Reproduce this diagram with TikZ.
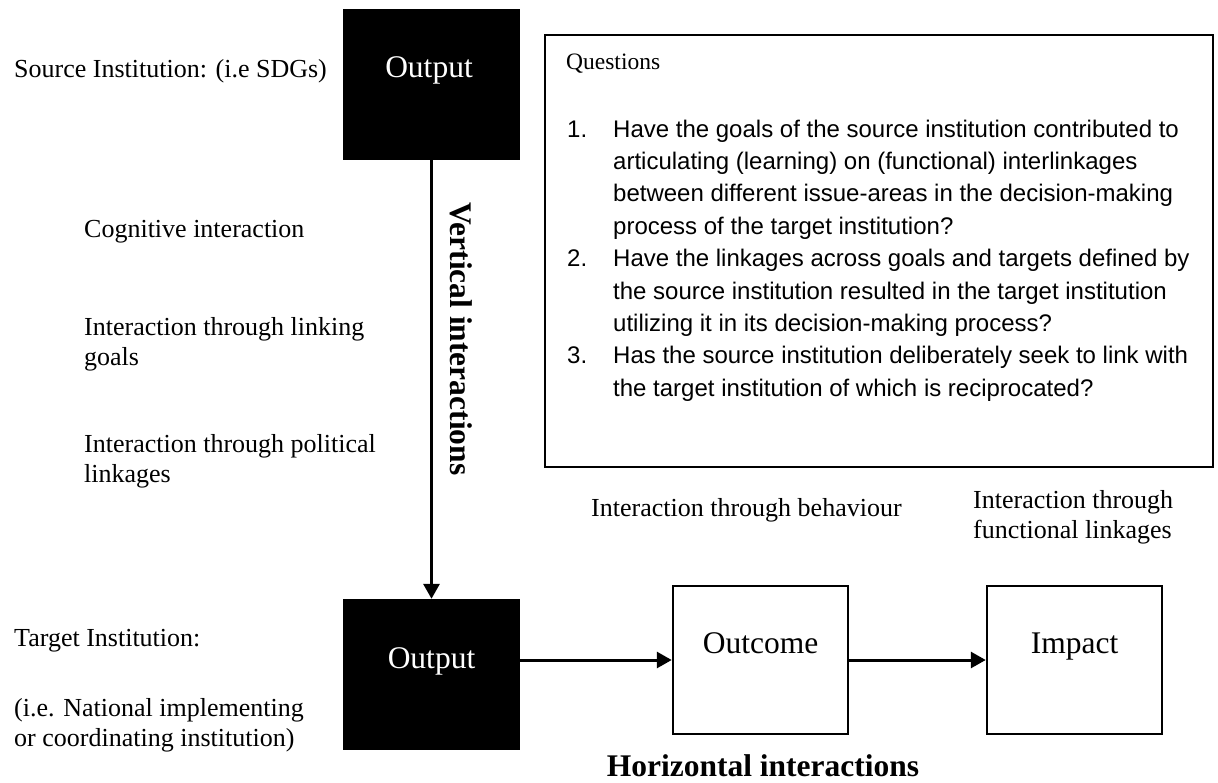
\documentclass[tikz,border=0pt]{standalone}
\usepackage{fontspec}
\setmainfont{Liberation Serif}
\newfontfamily\arialf{Liberation Sans}
\usetikzlibrary{arrows.meta}
\begin{document}
\begin{tikzpicture}[x=1pt,y=-1pt,
  lbl/.style={anchor=base west, inner sep=0pt, font=\fontsize{26}{30}\selectfont},
  qtxt/.style={anchor=base west, inner sep=0pt, font=\arialf\fontsize{24}{32}\selectfont},
  qhead/.style={anchor=base west, inner sep=0pt, font=\fontsize{23.5}{28}\selectfont},
  blackbox/.style={fill=black, draw=none, minimum width=177pt, minimum height=151pt, inner sep=0pt},
  whitebox/.style={draw=black, line width=2.5pt, minimum width=175pt, minimum height=148pt, inner sep=0pt},
  boxtext/.style={anchor=base, inner sep=0pt, font=\fontsize{31.5}{36}\selectfont},
  qboxstyle/.style={draw=black, line width=2.5pt, minimum width=668pt, minimum height=432pt, inner sep=0pt},
  conn/.style={line width=3pt, -{Triangle[length=15pt,width=16pt]}},
  heading/.style={anchor=base, font=\bfseries\fontsize{31.5}{36}\selectfont, inner sep=0pt}
]
\useasboundingbox (0,0) rectangle (1218,782);
% boxes
\node[blackbox] (src) at (431.5,84.5) {};
\node[boxtext, text=white] (srct) at (429,77) {Output};
\node[blackbox] (tgt) at (431.5,674.5) {};
\node[boxtext, text=white] (tgtt) at (431.5,668) {Output};
\node[whitebox] (outc) at (760.5,660) {};
\node[boxtext] (outct) at (760.5,653) {Outcome};
\node[whitebox] (imp) at (1074.5,660) {};
\node[boxtext] (impt) at (1074.5,653) {Impact};
% connectors
\draw[conn] (src.south) -- (tgt.north);
\draw[conn] (tgt.east |- outc.west) -- (outc.west);
\draw[conn] (outc.east) -- (imp.west);
% headings
\node[heading, rotate=-90, anchor=center] (vlab) at (461,339) {Vertical interactions};
\node[heading] (hlab) at (763,776) {Horizontal interactions};
% left labels
\node[lbl] (srcl) at (14,77) {Source Institution: (i.e SDGs)};
\node[lbl] (cog) at (84,237) {Cognitive interaction};
\node[lbl] (link1) at (84,335) {Interaction through linking};
\node[lbl] (link2) at (84,365) {goals};
\node[lbl] (pol1) at (84,452) {Interaction through political};
\node[lbl] (pol2) at (84,482) {linkages};
\node[lbl] (tgtl) at (14,646) {Target Institution:};
\node[lbl] (tgtl2) at (14,716) {(i.e. National implementing};
\node[lbl] (tgtl3) at (14,746) {or coordinating institution)};
\node[lbl] (beh) at (591,516) {Interaction through behaviour};
\node[lbl] (fun1) at (973,508) {Interaction through};
\node[lbl] (fun2) at (973,538) {functional linkages};
% questions box
\node[qboxstyle] (qbox) at (879,251) {};
\node[qhead] (qh) at (566,69) {Questions};
\node[qtxt] (n1) at (567,137) {1.};
\node[qtxt] (q1a) at (613,137) {Have the goals of the source institution contributed to};
\node[qtxt] (q1b) at (613,169.4) {articulating (learning) on (functional) interlinkages};
\node[qtxt] (q1c) at (613,201.8) {between different issue-areas in the decision-making};
\node[qtxt] (q1d) at (613,234.2) {process of the target institution?};
\node[qtxt] (n2) at (567,266.6) {2.};
\node[qtxt] (q2a) at (613,266.6) {Have the linkages across goals and targets defined by};
\node[qtxt] (q2b) at (613,299) {the source institution resulted in the target institution};
\node[qtxt] (q2c) at (613,331.4) {utilizing it in its decision-making process?};
\node[qtxt] (n3) at (567,363.8) {3.};
\node[qtxt] (q3a) at (613,363.8) {Has the source institution deliberately seek to link with};
\node[qtxt] (q3b) at (613,396.2) {the target institution of which is reciprocated?};
\end{tikzpicture}
\end{document}
